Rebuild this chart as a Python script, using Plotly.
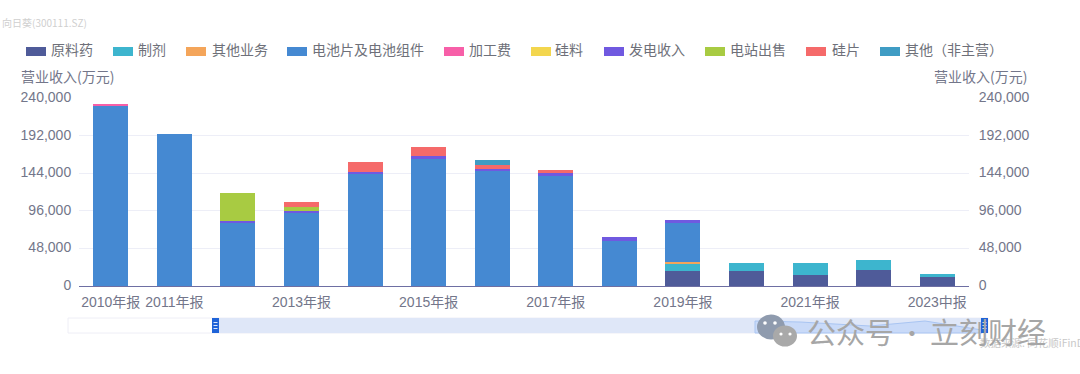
import plotly.graph_objects as go

W, H = 1080, 374
L, R, T, B = 79, 969, 98, 286

categories = ["2010年报", "2011年报", "2012年报", "2013年报", "2014年报", "2015年报", "2016年报",
              "2017年报", "2018年报", "2019年报", "2020年报", "2021年报", "2022年报", "2023中报"]
tick_labels = ["2010年报", "2011年报", "2013年报", "2015年报", "2017年报", "2019年报", "2021年报", "2023中报"]
y_ticks = [0, 48000, 96000, 144000, 192000, 240000]

yuanliaoyao = [0, 0, 0, 0, 0, 0, 0, 0, 0, 19600, 19600, 14500, 20000, 11500]
zhiji = [0, 0, 0, 0, 0, 0, 0, 0, 0, 8100, 9300, 15300, 13700, 4300]
qita_yewu = [0, 0, 0, 0, 0, 0, 0, 0, 0, 2600, 0, 0, 0, 0]
dianchi = [230000, 193500, 80000, 94000, 142600, 161800, 146500, 140000, 57900, 50100, 0, 0, 0, 0]
jiagongfei = [1200, 0, 0, 0, 0, 0, 0, 0, 0, 0, 0, 0, 0, 0]
guiliao = [0, 0, 0, 0, 0, 0, 0, 0, 0, 0, 0, 0, 0, 0]
fadian = [0, 0, 3400, 2000, 3400, 4200, 3300, 4700, 4300, 3500, 0, 0, 0, 0]
dianzhan = [0, 0, 35700, 4900, 0, 0, 0, 0, 0, 0, 0, 0, 0, 0]
guipian = [0, 0, 0, 6400, 12000, 11100, 4300, 3800, 0, 0, 0, 0, 0, 0]
qita_feizhuying = [0, 0, 0, 0, 0, 0, 6400, 0, 0, 0, 0, 0, 0, 0]

series = [
    ("原料药", yuanliaoyao, "#4F5B99", 26, 51),
    ("制剂", zhiji, "#3DB5CE", 113, 138),
    ("其他业务", qita_yewu, "#F4A55A", 186, 212),
    ("电池片及电池组件", dianchi, "#4589D2", 287, 312),
    ("加工费", jiagongfei, "#F75FA8", 444, 469),
    ("硅料", guiliao, "#F3D64E", 531, 555),
    ("发电收入", fadian, "#7059E0", 604, 629),
    ("电站出售", dianzhan, "#A8CB42", 705, 730),
    ("硅片", guipian, "#F56A6A", 806, 832),
    ("其他（非主营）", qita_feizhuying, "#3F9CC4", 880, 905),
]

FONT = "Liberation Sans, Noto Sans CJK SC, sans-serif"
CJK = "Noto Sans CJK SC, Liberation Sans, sans-serif"
TXT = "#73768A"


def px(x):
    return (x - L) / (R - L)


def py(y):
    return (B - y) / (B - T)


def text(x, y, s, size=14, color=TXT, anchor="left", font=CJK):
    return dict(x=px(x), y=py(y), xref="paper", yref="paper", text=s, showarrow=False,
                xanchor=anchor, yanchor="middle", font=dict(size=size, color=color, family=font),
                borderpad=0, borderwidth=0)


def rect(x0, y0, x1, y1, fill, line=None, opacity=1):
    return dict(type="rect", xref="paper", yref="paper", x0=px(x0), x1=px(x1), y0=py(y0), y1=py(y1),
                fillcolor=fill, line=dict(color=line or fill, width=1 if line else 0), opacity=opacity)


def circle(cx, cy, rx, ry, fill):
    return dict(type="circle", xref="paper", yref="paper", x0=px(cx - rx), x1=px(cx + rx),
                y0=py(cy + ry), y1=py(cy - ry), fillcolor=fill, line=dict(width=0))


fig = go.Figure()
for name, vals, color, _, _ in series:
    fig.add_trace(go.Bar(name=name, x=categories, y=vals, marker=dict(color=color, line=dict(width=0)),
                         showlegend=False, yaxis="y"))
fig.add_trace(go.Scatter(x=categories[:1], y=[None], yaxis="y2", showlegend=False, hoverinfo="skip"))

annotations = [text(2, 22, "向日葵(300111.SZ)", size=10, color="#CFCFCF"),
               text(21, 76, "营业收入(万元)", size=14),
               text(1027, 76, "营业收入(万元)", size=14, anchor="right"),
               text(980, 342, "数据来源: 同花顺iFinD", size=10.5, color="#C8C8C8"),
               text(807, 331, "公众号", size=29, color="#A6A6A6"),
               text(912, 331, "·", size=24, color="#A6A6A6", anchor="center"),
               text(930, 331, "立刻财经", size=29, color="#A6A6A6")]
shapes = []
for name, _, color, sx, tx in series:
    shapes.append(rect(sx, 47, sx + 20, 56, color))
    annotations.append(text(tx, 49, name, size=14, color="#6E7079"))

# range slider look-alike
shapes += [
    rect(68, 318, 988, 333, "#FFFFFF", line="#EEEEF6"),
    rect(216, 318, 985, 333, "#DFE7F8"),
    dict(type="path", xref="paper", yref="paper", fillcolor="#C9DAF8", line=dict(color="#A9C5F2", width=1),
         path=" ".join(f"{c}{px(a)},{py(b)}" for c, a, b in [
             ("M", 755, 333), ("L", 755, 321), ("L", 800, 322), ("L", 870, 326),
             ("L", 925, 321), ("L", 982, 330), ("L", 982, 333)]) + " Z"),
    rect(212, 318, 219, 333, "#1F63D8"),
    rect(981, 318, 988, 333, "#1F63D8"),
]
for hx in (215.5, 984.5):
    for hy in (322.5, 325.5, 328.5):
        shapes.append(rect(hx - 2, hy - 0.5, hx + 2, hy + 0.5, "#DCE8FB"))

# watermark icon
shapes += [
    circle(771, 327, 14, 12.5, "#8F9BAE"),
    circle(785, 336, 12, 10.5, "#A9A9A9"),
    circle(765, 323, 1.8, 1.8, "#FFFFFF"),
    circle(775, 323, 1.8, 1.8, "#FFFFFF"),
    circle(781, 334, 1.6, 1.6, "#FFFFFF"),
    circle(790, 334, 1.6, 1.6, "#FFFFFF"),
]

axis_font = dict(size=14, color=TXT, family=FONT)
y_common = dict(range=[0, 240000], tickvals=y_ticks, tickformat=",", tickfont=axis_font, ticks="outside",
                tickcolor="rgba(0,0,0,0)", zeroline=False, showline=False, ticklabelshift=-1)

fig.update_layout(
    width=W, height=H, autosize=False, barmode="stack", bargap=0.45,
    margin=dict(l=L, r=W - R, t=T, b=H - B, pad=0),
    paper_bgcolor="#FFFFFF", plot_bgcolor="#FFFFFF", showlegend=False,
    font=dict(family=FONT),
    xaxis=dict(type="category", categoryorder="array", categoryarray=categories, tickvals=tick_labels,
               range=[-0.5, 13.5], tickfont=axis_font, ticks="outside", ticklen=3, tickcolor="rgba(0,0,0,0)",
               showgrid=False, zeroline=False, showline=True, linecolor="#6E6FA3", linewidth=1),
    yaxis=dict(showgrid=True, gridcolor="#EDEEF7", gridwidth=1, ticklen=4, **y_common),
    yaxis2=dict(overlaying="y", side="right", showgrid=False, anchor="x", ticklen=6, **y_common),
    annotations=annotations, shapes=shapes,
)
fig.write_html("out.html", config=dict(displayModeBar=False),
               post_script="document.body.style.margin='0';document.body.style.overflow='hidden';")
